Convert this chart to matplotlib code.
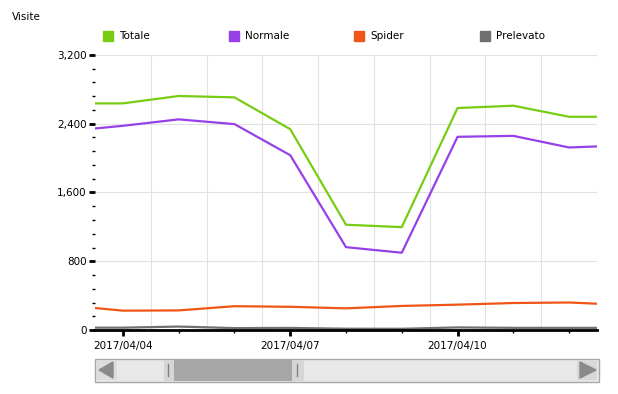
import pandas as pd
import matplotlib
matplotlib.use('Agg')
import matplotlib.pyplot as plt
import matplotlib.dates as mdates
from matplotlib.patches import Rectangle, Polygon
from matplotlib.ticker import FuncFormatter, MultipleLocator

# Daily visits
dates = pd.date_range('2017-04-03', '2017-04-13', freq='D')
totale = [2637, 2637, 2723, 2707, 2337, 1225, 1197, 2583, 2610, 2481, 2481]
normale = [2314, 2376, 2451, 2396, 2034, 964, 899, 2248, 2259, 2124, 2148]
spider = [287, 225, 228, 277, 270, 252, 280, 295, 314, 320, 292]
prelevato = [27, 27, 40, 22, 24, 15, 14, 30, 25, 25, 25]

series = ['Totale', 'Normale', 'Spider', 'Prelevato']
colors = ['#78cc14', '#9640ea', '#ee5516', '#707070']
major_dates = ['2017-04-04', '2017-04-07', '2017-04-10']

W, H = 618, 394
fig = plt.figure(figsize=(W / 100, H / 100), dpi=100)
plt.rcParams['font.family'] = ['DejaVu Sans']

# plot area in pixels
left, right, top, bottom = 95, 597, 55, 330
ax = fig.add_axes([left / W, 1 - bottom / H, (right - left) / W, (bottom - top) / H])

for vals, col, name in zip([totale, normale, spider, prelevato], colors, series):
    ax.plot(dates, vals, color=col, lw=1.6, label=name, solid_joinstyle='round', zorder=3)

# y axis
ax.set_ylim(0, 3200)
ax.yaxis.set_major_locator(MultipleLocator(800))
ax.yaxis.set_minor_locator(MultipleLocator(160))
ax.yaxis.set_major_formatter(FuncFormatter(lambda v, p: f'{int(v):,}'))
ax.tick_params(axis='y', which='major', length=4, width=2, labelsize=7.5, pad=2, color='black')
ax.tick_params(axis='y', which='minor', length=2, width=1, color='black')
ax.grid(axis='y', which='major', color='#e2e2e2', lw=0.8)

# x axis: daily ticks, labels every 3 days, grid at half days
ax.set_xticks(pd.to_datetime(major_dates))
ax.xaxis.set_major_formatter(mdates.DateFormatter('%Y/%m/%d'))
ax.set_xticks(dates[1:-1], minor=True)
ax.tick_params(axis='x', which='major', length=4, width=2, labelsize=7.5, pad=4, color='black')
ax.tick_params(axis='x', which='minor', length=2, width=1, color='black')
for d in pd.date_range('2017-04-04 12:00', '2017-04-12 12:00', freq='D'):
    ax.axvline(d, color='#e2e2e2', lw=0.8, zorder=0)
ax.set_xlim(pd.Timestamp('2017-04-03 12:00'), pd.Timestamp('2017-04-12 12:00'))

for s in ['top', 'right', 'left']:
    ax.spines[s].set_visible(False)
ax.spines['bottom'].set_linewidth(2)
ax.spines['bottom'].set_zorder(4)

# overlay in pixel coordinates for title, legend and scrollbar
ov = fig.add_axes([0, 0, 1, 1], zorder=-1)
ov.set_xlim(0, W)
ov.set_ylim(H, 0)
ov.axis('off')

ov.text(12, 17, 'Visite', fontsize=7.5, va='center', ha='left')

leg_x = [103, 229, 354, 480]
for x, col, name in zip(leg_x, colors, series):
    ov.add_patch(Rectangle((x, 31), 10, 10, color=col))
    ov.text(x + 16, 36, name, fontsize=7.5, va='center', ha='left')

# scrollbar
ov.add_patch(Rectangle((95, 359), 504, 23, facecolor='#e8e8e8', edgecolor='#a8a8a8', lw=1))
ov.add_patch(Rectangle((97, 361), 20, 19, facecolor='#dcdcdc', edgecolor='none'))
ov.add_patch(Polygon([[113, 362], [113, 378], [99, 370]], closed=True, color='#8a8a8a'))
ov.add_patch(Rectangle((577, 361), 20, 19, facecolor='#d8d8d8', edgecolor='none'))
ov.add_patch(Polygon([[580, 362], [580, 378], [596, 370]], closed=True, color='#8a8a8a'))
ov.add_patch(Rectangle((164, 360), 140, 21, facecolor='#d6d6d6', edgecolor='none'))
ov.add_patch(Rectangle((174, 360), 118, 21, facecolor='#a6a6a6', edgecolor='none'))
ov.plot([168, 168], [364, 376], color='#808080', lw=1)
ov.plot([297, 297], [364, 376], color='#808080', lw=1)

fig.savefig('out.png', dpi=100)
plt.close(fig)
